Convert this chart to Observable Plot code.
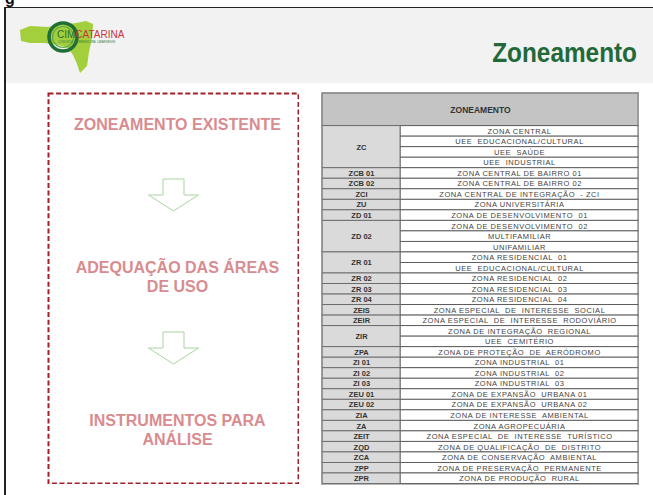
<!DOCTYPE html>
<html>
<head>
<meta charset="utf-8">
<script src="https://cdn.jsdelivr.net/npm/d3@7"></script>
<script src="https://cdn.jsdelivr.net/npm/@observablehq/plot@0.6"></script>
<style>
  html, body { margin: 0; padding: 0; background: #fff; }
  #page { position: relative; width: 653px; height: 495px; overflow: hidden; background: #fff; font-family: "Liberation Sans", Arial, sans-serif; }
  #page > * { position: absolute; }
  #table text { white-space: pre; }
  #table g.desc text { letter-spacing: 0.55px; }
</style>
</head>
<body>
<div id="page">
  <div style="left:5px;top:7px;width:648px;height:75px;background:#f2f2f2;border-top:1.5px solid #222;"></div>
  <div style="left:4px;top:7px;width:1.5px;height:488px;background:#222;"></div>
  <svg id="header" width="653" height="90" style="left:0;top:0;">
    <text x="5" y="4" font-size="16" font-weight="bold" fill="#111" font-family="Liberation Sans, Arial, sans-serif">g</text>
    <path d="M20,30 L30,26 L48,27 L62,25 L76,23 L86,21 L93,24 L92,38 L89,52 L87,66 L80,73 L77,64 L73,55 L68,48 L58,45 L44,43 L30,43 L21,41 Z" fill="#a3cf3c"/>
    <circle cx="63" cy="37" r="14" fill="none" stroke="#1f6e33" stroke-width="3.5"/>
    <circle cx="63" cy="37" r="10.5" fill="none" stroke="#5ea84a" stroke-width="1.2"/>
    <text x="57" y="38" font-size="10" font-family="Liberation Sans, Arial, sans-serif"><tspan fill="#1f6e33">CIM</tspan><tspan fill="#c8363a">CATARINA</tspan></text>
    <text x="58" y="43" font-size="2.6" fill="#3a7a3a" font-family="Liberation Sans, Arial, sans-serif">CONSÓRCIO INTERMUNICIPAL CATARINENSE</text>
    <g transform="translate(637,62) scale(0.87,1)">
      <text id="title" x="0" y="0" text-anchor="end" font-size="28" font-weight="bold" fill="#22693a" font-family="Liberation Sans, Arial, sans-serif"></text>
    </g>
  </svg>
  <div id="left" style="left:47px;top:92px;"></div>
  <div id="table" style="left:321px;top:92px;"></div>
</div>
<script>
// ---- data ----
const slideTitle = "Zoneamento";
const steps = ["ZONEAMENTO EXISTENTE", "ADEQUAÇÃO DAS ÁREAS\nDE USO", "INSTRUMENTOS PARA\nANÁLISE"];
const arrowsAfterStep = [0, 1];
const tableTitle = "ZONEAMENTO";
const zoneCodes = ["ZC","ZCB 01","ZCB 02","ZCI","ZU","ZD 01","ZD 02","ZR 01","ZR 02","ZR 03","ZR 04","ZEIS","ZEIR","ZIR","ZPA","ZI 01","ZI 02","ZI 03","ZEU 01","ZEU 02","ZIA","ZA","ZEIT","ZQD","ZCA","ZPP","ZPR"];
const zoneRowCounts = [4,1,1,1,1,1,3,2,1,1,1,1,1,2,1,1,1,1,1,1,1,1,1,1,1,1,1];
const zoneDescriptions = [
  "ZONA CENTRAL", "UEE  EDUCACIONAL/CULTURAL", "UEE  SAÚDE", "UEE  INDUSTRIAL",
  "ZONA CENTRAL DE BAIRRO 01", "ZONA CENTRAL DE BAIRRO 02", "ZONA CENTRAL DE INTEGRAÇÃO  - ZCI", "ZONA UNIVERSITÁRIA", "ZONA DE DESENVOLVIMENTO  01",
  "ZONA DE DESENVOLVIMENTO  02", "MULTIFAMILIAR", "UNIFAMILIAR",
  "ZONA RESIDENCIAL  01", "UEE  EDUCACIONAL/CULTURAL",
  "ZONA RESIDENCIAL  02", "ZONA RESIDENCIAL  03", "ZONA RESIDENCIAL  04",
  "ZONA ESPECIAL  DE  INTERESSE  SOCIAL", "ZONA ESPECIAL  DE  INTERESSE  RODOVIÁRIO",
  "ZONA DE INTEGRAÇÃO  REGIONAL", "UEE  CEMITÉRIO",
  "ZONA DE PROTEÇÃO  DE  AERÓDROMO", "ZONA INDUSTRIAL  01", "ZONA INDUSTRIAL  02", "ZONA INDUSTRIAL  03",
  "ZONA DE EXPANSÃO  URBANA 01", "ZONA DE EXPANSÃO  URBANA 02", "ZONA DE INTERESSE  AMBIENTAL", "ZONA AGROPECUÁRIA",
  "ZONA ESPECIAL  DE  INTERESSE  TURÍSTICO", "ZONA DE QUALIFICAÇÃO  DE  DISTRITO", "ZONA DE CONSERVAÇÃO  AMBIENTAL",
  "ZONA DE PRESERVAÇÃO  PERMANENTE", "ZONA DE PRODUÇÃO  RURAL"
];

// ---- derived tables ----
let acc = 0;
const codeCells = zoneCodes.map((code, i) => {
  const o = {code, start: acc, end: acc + zoneRowCounts[i]};
  acc += zoneRowCounts[i];
  return o;
});
const descRows = zoneDescriptions.map((label, row) => ({label, row}));

document.getElementById("title").textContent = slideTitle;

const FONT = "Liberation Sans, Arial, sans-serif";

// ---- left panel ----
const blockArrow = {
  draw(ctx, size) {
    const s = Math.sqrt(size / Math.PI) / 25;
    ctx.moveTo(-10.5 * s, -16 * s);
    ctx.lineTo(10.5 * s, -16 * s);
    ctx.lineTo(10.5 * s, 0);
    ctx.lineTo(25 * s, 0);
    ctx.lineTo(0, 16 * s);
    ctx.lineTo(-25 * s, 0);
    ctx.lineTo(-10.5 * s, 0);
    ctx.closePath();
  }
};

const left = Plot.plot({
  width: 252, height: 392, margin: 0,
  style: {background: "transparent", fontFamily: FONT},
  x: {domain: [0, 1], range: [0, 252], axis: null},
  y: {domain: [0, 2], range: [31, 337], axis: null},
  marks: [
    Plot.frame({stroke: "#a3212b", strokeWidth: 2, strokeDasharray: "5,2.6", inset: 1}),
    Plot.text(steps, {x: 0.5, y: (d, i) => i, text: d => d, dx: 4, fontSize: 16, fontWeight: "bold",
      fill: "#d98c90", lineHeight: 1.2, lineAnchor: "middle"}),
    Plot.dot(arrowsAfterStep, {x: 0.5, y: d => d + 0.5, dy: -5, symbol: blockArrow, r: 25,
      stroke: "#a9d4a1", strokeWidth: 1, fill: "white"})
  ]
});
document.getElementById("left").appendChild(left);

// ---- table ----
const CODE_W = 0.247;
const table = Plot.plot({
  width: 318, height: 393, margin: 0,
  style: {background: "transparent", fontFamily: FONT},
  x: {domain: [0, 1], range: [1, 317], axis: null},
  y: {domain: [-3.1, 34], range: [1, 391.5], axis: null},
  marks: [
    Plot.rect([tableTitle], {x1: 0, x2: 1, y1: -3.1, y2: 0, fill: "#c4c4c4", stroke: "#777", strokeWidth: 1}),
    Plot.text([tableTitle], {x: 0.5, y: -1.55, text: d => d, fontSize: 8.5, fontWeight: "bold", fill: "#333"}),
    Plot.rect(descRows, {x1: CODE_W, x2: 1, y1: "row", y2: d => d.row + 1, fill: "white", stroke: "#555", strokeWidth: 0.9}),
    Plot.rect(codeCells, {x1: 0, x2: CODE_W, y1: "start", y2: "end", fill: "#dadada", stroke: "#666", strokeWidth: 0.9}),
    Plot.text(codeCells, {x: CODE_W / 2, y: d => (d.start + d.end) / 2, text: "code", fontSize: 7.5, fontWeight: "bold", fill: "#333"}),
    Plot.text(descRows, {x: (CODE_W + 1) / 2, y: d => d.row + 0.5, text: "label", fontSize: 7.5, fill: "#444", className: "desc"}),
    Plot.frame({stroke: "#888", strokeWidth: 1.2, inset: 0.5})
  ]
});
document.getElementById("table").appendChild(table);
</script>
</body>
</html>
